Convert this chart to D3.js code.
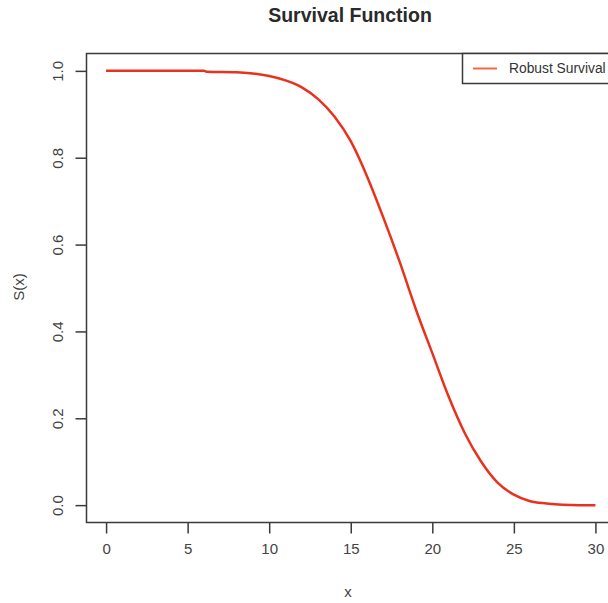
<!DOCTYPE html>
<meta charset="utf-8">
<style>
body { margin: 0; background: #fff; }
text { font-family: "Liberation Sans", Arial, sans-serif; }
</style>
<body>
<svg width="608" height="603"></svg>
<script src="https://cdn.jsdelivr.net/npm/d3@7"></script>
<script>
// survival curve
var xs = [0, 5, 6, 6.2, 8, 9, 10, 11, 12, 13, 14, 15, 16, 17, 18, 19, 20, 21, 22, 23, 24, 25, 26, 27, 28, 29, 30];
var sx = [1.0, 1.0, 1.0, 0.998, 0.997, 0.994, 0.988, 0.978, 0.962, 0.935, 0.895, 0.838, 0.757, 0.662, 0.56, 0.45, 0.35, 0.25, 0.165, 0.10, 0.052, 0.024, 0.009, 0.004, 0.001, 0.0, 0.0];
var xTicks = [0, 5, 10, 15, 20, 25, 30];
var yTicks = [0, 0.2, 0.4, 0.6, 0.8, 1.0];

var svg = d3.select("svg");
var boxL = 86.5, boxR = 615, boxT = 53.5, boxB = 522.5;

// R style: data range padded 4% on each side
var x = d3.scaleLinear().domain([-1.2, 31.2]).range([boxL, boxR]);
var y = d3.scaleLinear().domain([-0.04, 1.04]).range([boxB, boxT]);

var data = xs.map(function(d, i) { return {x: d, s: sx[i]}; });

svg.append("text")
   .attr("x", 350)
   .attr("y", 22)
   .attr("text-anchor", "middle")
   .style("font-size", "19.5px")
   .style("font-weight", "bold")
   .attr("fill", "#2a2a2a")
   .text("Survival Function");

// plot box
svg.append("rect")
   .attr("x", boxL).attr("y", boxT)
   .attr("width", boxR - boxL).attr("height", boxB - boxT)
   .attr("fill", "none")
   .attr("stroke", "#3a3a3a")
   .attr("stroke-width", 1.5);

// x axis
var xa = svg.append("g")
   .attr("transform", "translate(0," + boxB + ")")
   .call(d3.axisBottom(x).tickValues(xTicks).tickSize(11).tickPadding(10).tickFormat(d3.format("d")));
xa.select(".domain").remove();
xa.selectAll("line").attr("stroke", "#3a3a3a").attr("stroke-width", 1.5);
xa.selectAll("text")
  .style("font-size", "15px")
  .attr("fill", "#444")
  .attr("font-family", "Liberation Sans, Arial, sans-serif");

// y axis with rotated labels
var ya = svg.append("g")
   .attr("transform", "translate(" + boxL + ",0)")
   .call(d3.axisLeft(y).tickValues(yTicks).tickSize(11).tickFormat(d3.format(".1f")));
ya.select(".domain").remove();
ya.selectAll("line").attr("stroke", "#3a3a3a").attr("stroke-width", 1.5);
ya.selectAll("text")
  .attr("x", 0).attr("dy", null)
  .attr("transform", "translate(-29,0) rotate(-90)")
  .attr("text-anchor", "middle")
  .attr("dominant-baseline", "central")
  .style("font-size", "15px")
  .attr("fill", "#444")
  .attr("font-family", "Liberation Sans, Arial, sans-serif");

svg.append("text")
   .attr("x", 348)
   .attr("y", 597)
   .attr("text-anchor", "middle")
   .style("font-size", "15px")
   .attr("fill", "#444")
   .text("x");

svg.append("text")
   .attr("transform", "translate(24,287) rotate(-90)")
   .attr("text-anchor", "middle")
   .style("font-size", "15px")
   .attr("fill", "#444")
   .text("S(x)");

// the curve
var line = d3.line()
   .x(function(d) { return x(d.x); })
   .y(function(d) { return y(d.s); })
   .curve(d3.curveMonotoneX);

svg.append("path")
   .datum(data)
   .attr("d", line)
   .attr("fill", "none")
   .attr("stroke", "#e8321e")
   .attr("stroke-width", 2.5);

// legend
var lg = svg.append("g");
lg.append("rect")
  .attr("x", 462.5).attr("y", boxT)
  .attr("width", 160).attr("height", 30)
  .attr("fill", "#fff")
  .attr("stroke", "#3a3a3a")
  .attr("stroke-width", 1.5);
lg.append("line")
  .attr("x1", 473).attr("x2", 497)
  .attr("y1", 68.5).attr("y2", 68.5)
  .attr("stroke", "#f06a4a")
  .attr("stroke-width", 2);
lg.append("text")
  .attr("x", 509).attr("y", 73)
  .style("font-size", "13.8px")
  .attr("fill", "#333")
  .text("Robust Survival");
</script>
</body>
